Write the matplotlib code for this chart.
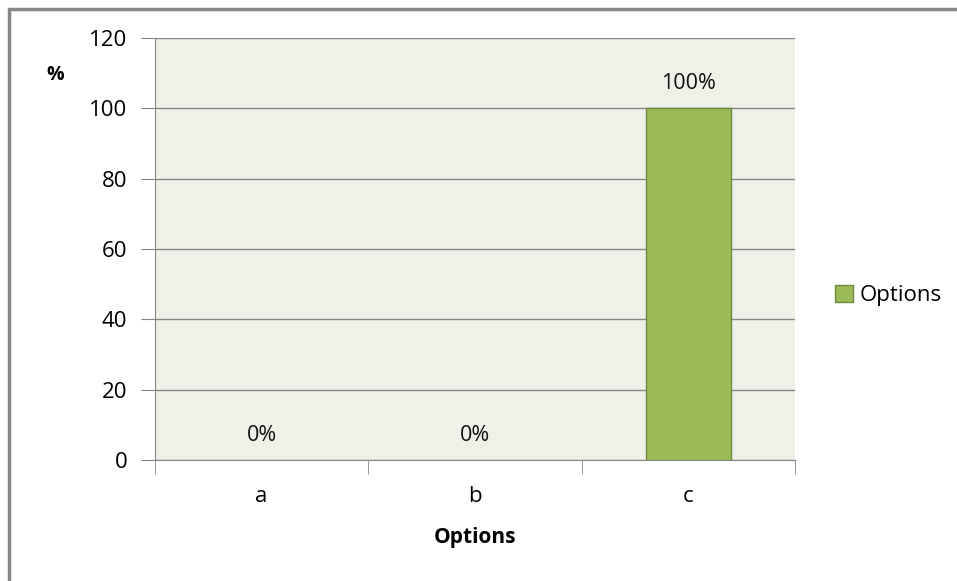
import matplotlib.pyplot as plt
import numpy as np
from matplotlib.patches import Rectangle

categories = ['a', 'b', 'c']
values = [0, 0, 100]
value_labels = ['0%', '0%', '100%']

plt.rcParams['font.family'] = ['Open Sans', 'DejaVu Sans']

fig = plt.figure(figsize=(9.57, 5.81), dpi=100)
ax = fig.add_axes([155 / 957, 1 - 460 / 581, 640 / 957, 422 / 581])

# outer chart frame
fig.patches.append(Rectangle((9 / 957, -0.1), 1.2, 1.1 - 9 / 581,
                             transform=fig.transFigure, fill=False,
                             edgecolor='#878787', linewidth=2.5))

ax.set_facecolor('#EFF1E9')
x = np.arange(len(categories))
edges = ['#71893F' if v > 0 else 'none' for v in values]
ax.bar(x, values, width=0.4, color='#9BBB59', edgecolor=edges,
       linewidth=1, label='Options', zorder=3)

for xi, v, lab in zip(x, values, value_labels):
    ax.text(xi, v + 4, lab, ha='center', va='bottom', fontsize=15.5, color='#111111')

ax.set_xlim(-0.5, 2.5)
ax.set_ylim(0, 120)
ax.set_yticks(np.arange(0, 121, 20))
ax.yaxis.grid(True, color='#868686', linewidth=1)
ax.set_axisbelow(True)

ax.set_xticks(x)
ax.set_xticklabels(categories, fontsize=16)
ax.set_xticks([-0.5, 0.5, 1.5, 2.5], minor=True)
ax.tick_params(axis='x', which='major', length=0, pad=19)
ax.tick_params(axis='x', which='minor', length=10, color='#868686', direction='out')
ax.tick_params(axis='y', length=10, color='#868686', labelsize=16, pad=10)

for s in ['top', 'right']:
    ax.spines[s].set_visible(False)
for s in ['left', 'bottom']:
    ax.spines[s].set_color('#868686')

ax.set_xlabel('Options', fontsize=15, fontweight='bold', labelpad=14)
fig.text(55 / 957, 1 - 75 / 581, '%', fontsize=14, fontweight='bold', ha='center', va='center')

leg = ax.legend(loc='center left', bbox_to_anchor=(1.032, 0.39), frameon=False,
                fontsize=16, handlelength=0.8, handleheight=0.8, handletextpad=0.3)
leg.get_patches()[0].set_edgecolor('#71893F')

fig.savefig('out.png', dpi=100)
